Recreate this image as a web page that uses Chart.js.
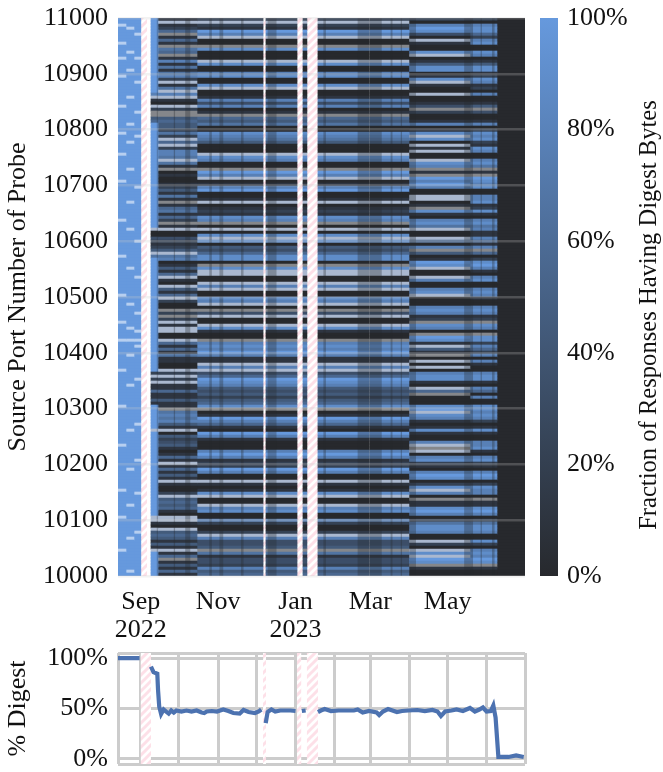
<!DOCTYPE html>
<html>
<head>
<meta charset="utf-8">
<script src="https://cdn.jsdelivr.net/npm/chart.js@4/dist/chart.umd.min.js"></script>
<style>
  body { margin: 0; background: #fff; width: 663px; height: 772px; overflow: hidden; position: relative; }
  canvas { position: absolute; }
</style>
</head>
<body>
<canvas id="heatChart" width="530" height="640" style="left:0;top:0"></canvas>
<canvas id="barChart" width="133" height="640" style="left:530px;top:0"></canvas>
<canvas id="lineChart" width="540" height="132" style="left:0;top:640px"></canvas>
<script>
// Rows read top to bottom, 0-9 = 0-100%, w = thin speckled white row, g = mixed grey row
const rowsMid = '2w2197w00g' + '8000w80078' + '008w001737' + '01g5460087' + '64000w8700' + 'g97w017900' +
  '1w012187g0' + 'w08w804358' + '80g8ww00w7' + 'w0087w0g3w' + '00w8100g78' + '79711w7w35' +
  '9874342458' + 'g019751097' + '1000797122' + '9700w1018w' + '00w7800720' + '02w7334g61' + '332745';
const rowsEarly = '1w125g151g' + '65g1716167' + '2w16w7w10w' + '2gg4544262' + 'w5w2776w61' + 'g010012416' +
  '1g156152g1' + 'w0032124w6' + '701415w10w' + '415w200g2g' + '2w1ww00w51' + '5161100w2w' +
  '2w11511411' + 'g676741w04' + '23410151w1' + '5141w1002w' + '454510ww10' + 'w454141w15' + 'g14151';
const rowsLate = '2079830w10' + '08w0148801' + '8w100w0013' + 'g20017018w' + '80w1w00w87' + 'g1g979700w' +
  'w01g810786' + 'w00w507g40' + '198w00w700' + '78w0007871' + '2g870g981w' + '41g0w0w078' +
  '810w5g0008' + '9w87101810' + '07wgw07821' + '0798028w70' + 'g118970268' + '8700w20w8w' + '98g100';
const rowsLast = '2078852780' + '0870148812' + '8712070014' + 'g300170287' + '8218700786' + 'g1g9878007' +
  '7812810786' + '7117517g50' + '2897107800' + '7871007871' + '2g870g8827' + '5270710078' +
  '8107507008' + '8787201810' + '0778107821' + '0798028770' + 'g118970268' + '8700820787' + '98g100';

// White specks in the all-blue weeks before Sep 2022 (row numbers)
const specksA = [2, 8, 13, 19, 29, 38, 45, 54, 67, 79, 92, 101, 107, 117, 129, 142, 157, 166, 177];
const specksB = [3, 11, 17, 26, 35, 41, 50, 61, 70, 83, 95, 103, 107, 112, 122, 137, 150, 162, 173, 184];
const specksC = [5, 13, 21, 31, 39, 56, 74, 86, 98, 104, 107, 109, 120, 135, 147, 158, 171];
// Rows where the stripes already start in the short blue strip after the gap
const edgeDarkRows = [[25, 34], [70, 79], [118, 128], [137, 137], [166, 177]];

// Days counted from 1 Sep 2022
const dayMin = -18;
const dayMax = 303;
const monthDays = [0, 30, 61, 91, 122, 153, 181, 212, 242, 273];
const labelDays = [0, 61, 122, 181, 242];
const labelTexts = [['Sep', '2022'], ['Nov'], ['Jan', '2023'], ['Mar'], ['May']];
const portTicks = [10000, 11000];
const barTicks = [0, 20, 40, 60, 80, 100];

const topGaps = [[0, 4.9], [96.4, 98.7], [123.2, 127.9], [131, 139.7]];
const lineGaps = [[0, 8], [96.4, 98.7], [123.2, 126.5], [131, 139.7]];
// Days where probing dimmed for a moment
const dimDays = [[12.6, 13.4], [26, 27], [35, 39], [54, 56], [62, 65], [79, 81], [100, 107], [144, 146],
  [171, 190], [197, 198.5], [205, 206], [212, 217], [255, 262], [268, 269], [277, 279]];

// Percentage line of the lower panel
const lineDays = [-18, -10, -1, 0, 8, 10, 13, 13.6, 14.5, 16, 18, 20, 22, 24, 26, 28, 32, 36, 40, 44, 48, 50, 52, 56, 60,
  65, 69, 73, 78, 81, 85, 90, 93, 95, 96.5, 98.5, 100, 103, 106, 110, 114, 118, 122, 123.5, 127, 130, 131,
  139.7, 142, 145, 150, 156, 162, 168, 171, 175, 180, 186, 188, 191, 195, 202, 206, 211, 218, 224, 230, 234,
  236.7, 240, 245, 249, 254, 259.6, 263.5, 267, 269.8, 272.7, 276, 278, 279.8, 282, 290, 296, 302];
const lineValues = [100, 100, 100, null, 91.6, 86, 84.5, 68, 52, 44.5, 49, 47, 45, 48, 46, 48, 47, 48, 47, 48, 46, 45.5, 47, 47.5, 47,
  49, 47.5, 45.5, 45, 48.5, 46.5, 45.5, 47, 49, null, 35.5, 46.6, 49, 47, 48, 48, 48, 47.5, null, 47.5, 48, null,
  46.5, 48, 49.5, 47.5, 48, 48, 48, 49, 46, 47.5, 46, 43.5, 47, 49.5, 46.5, 47.5, 48, 48.5, 47.5, 48.5, 47,
  42.5, 47, 48, 49, 47.5, 50.5, 47, 49, 51, 47, 47.5, 53, 41, 2, 2, 3.5, 2];

const rowLabels = rowsMid.split('').map((_, i) => String(Math.round(11000 - i * 1000 / rowsMid.length)));
const FONT = "'Liberation Serif', 'Times New Roman', serif";
const TEXT = '#111';

function mix(t) {
    const r = Math.round(0x27 + (0x66 - 0x27) * t);
    const g = Math.round(0x29 + (0x99 - 0x29) * t);
    const b = Math.round(0x2d + (0xdd - 0x2d) * t);
    return `rgb(${r},${g},${b})`;
}

function cellColor(ch) {
    if (ch === 'g') return '#85878b';
    if (ch === 'w') return '#aab8cf';
    if (ch === 's') return '#b7cff0';
    return mix(Number(ch) / 9);
}

function rowColumn(from, to, rowChars) {
    return {
        data: rowChars.map(() => [from, to]),
        backgroundColor: rowChars.map(cellColor),
        yAxisID: 'y',
        grouped: false,
        barPercentage: 1,
        categoryPercentage: 1
    };
}

function speckRow(specks) {
    return rowLabels.map((_, i) => specks.includes(i) ? 's' : '9');
}

function edgeRow() {
    return rowLabels.map((_, i) => edgeDarkRows.some(r => i >= r[0] && i <= r[1]) ? rowsEarly[i] : '9');
}

function hatchPattern() {
    const c = document.createElement('canvas');
    c.width = 8;
    c.height = 8;
    const p = c.getContext('2d');
    p.fillStyle = '#fff';
    p.fillRect(0, 0, 8, 8);
    p.strokeStyle = '#fde0e8';
    p.lineWidth = 3;
    p.beginPath();
    p.moveTo(-2, 10); p.lineTo(10, -2);
    p.moveTo(-6, 6); p.lineTo(6, -6);
    p.moveTo(2, 14); p.lineTo(14, 2);
    p.stroke();
    return p.createPattern(c, 'repeat');
}

// Hatched spans where the collection was down, through the x scale
function hatchPlugin(gaps) {
    return {
        id: 'hatch',
        beforeDatasetsDraw(chart) {
            const { ctx, chartArea, scales } = chart;
            ctx.save();
            ctx.fillStyle = hatchPattern();
            gaps.forEach(g => {
                const x0 = scales.x.getPixelForValue(g[0]);
                const x1 = scales.x.getPixelForValue(g[1]);
                ctx.fillRect(x0, chartArea.top, x1 - x0, chartArea.bottom - chartArea.top);
            });
            ctx.restore();
        }
    };
}

const dimPlugin = {
    id: 'dim',
    afterDatasetsDraw(chart) {
        const { ctx, chartArea, scales } = chart;
        ctx.save();
        ctx.fillStyle = 'rgba(38,41,45,0.32)';
        dimDays.forEach(d => {
            const x0 = scales.x.getPixelForValue(d[0]);
            const x1 = scales.x.getPixelForValue(d[1]);
            ctx.fillRect(x0, chartArea.top, x1 - x0, chartArea.bottom - chartArea.top);
        });
        ctx.restore();
    }
};

const rightTitle = {
    id: 'rightTitle',
    afterDraw(chart) {
        const { ctx, chartArea } = chart;
        ctx.save();
        ctx.translate(120, (chartArea.top + chartArea.bottom) / 2 + 18);
        ctx.rotate(-Math.PI / 2);
        ctx.font = `24.6px ${FONT}`;
        ctx.fillStyle = TEXT;
        ctx.textAlign = 'center';
        ctx.textBaseline = 'middle';
        ctx.fillText('Fraction of Responses Having Digest Bytes', 0, 0);
        ctx.restore();
    }
};

// Tick labels must not push the plot area in
function noLabelPadding(axis) {
    axis.paddingTop = 0;
    axis.paddingBottom = 0;
    axis.paddingLeft = 0;
    axis.paddingRight = 0;
}

const early = rowsEarly.split('');
const mid = rowsMid.split('');
const late = rowsLate.split('');
const last = rowsLast.split('');

new Chart(document.getElementById('heatChart'), {
    type: 'bar',
    data: {
        labels: rowLabels,
        datasets: [
            rowColumn(-18, -11.7, speckRow(specksA)),
            rowColumn(-11.7, -5.4, speckRow(specksB)),
            rowColumn(-5.4, 0, speckRow(specksC)),
            rowColumn(8, 13.5, edgeRow()),
            rowColumn(13.5, 44.3, early),
            rowColumn(44.3, 96.4, mid),
            rowColumn(98.7, 123.2, mid),
            rowColumn(127.9, 131, mid),
            rowColumn(139.7, 180.3, mid),
            rowColumn(181, 211.5, mid),
            rowColumn(211.5, 259.6, late),
            rowColumn(259.6, 280.9, last),
            rowColumn(280.9, 303, rowLabels.map(() => '0'))
        ]
    },
    plugins: [hatchPlugin(topGaps), dimPlugin],
    options: {
        indexAxis: 'y',
        responsive: false,
        animation: false,
        devicePixelRatio: 1,
        layout: { padding: { top: 18, right: 5 } },
        plugins: { legend: { display: false }, tooltip: { enabled: false } },
        scales: {
            x: {
                type: 'linear',
                min: dayMin,
                max: dayMax,
                grid: { display: false },
                border: { display: false },
                afterBuildTicks: axis => { axis.ticks = labelDays.map(value => ({ value })); },
                afterFit: axis => { axis.height = 64; noLabelPadding(axis); },
                ticks: {
                    autoSkip: false,
                    maxRotation: 0,
                    padding: 5,
                    color: TEXT,
                    font: { family: FONT, size: 26, lineHeight: 1.05 },
                    callback: value => labelTexts[labelDays.indexOf(value)]
                }
            },
            y: { type: 'category', display: false },
            yPort: {
                type: 'linear',
                position: 'left',
                offset: false,
                min: portTicks[0],
                max: portTicks[1],
                afterFit: axis => { axis.width = 118; noLabelPadding(axis); },
                grid: { offset: false, color: 'rgba(204,204,204,0.25)', lineWidth: 2.5, z: 1, drawTicks: false },
                border: { display: false },
                ticks: {
                    stepSize: 100,
                    padding: 10,
                    color: TEXT,
                    font: { family: FONT, size: 26 },
                    callback: value => String(value)
                },
                title: {
                    display: true,
                    text: 'Source Port Number of Probe',
                    color: TEXT,
                    padding: { top: 3, bottom: 0 },
                    font: { family: FONT, size: 26 }
                }
            }
        }
    }
});

new Chart(document.getElementById('barChart'), {
    type: 'bar',
    data: {
        labels: ['share'],
        datasets: [{
            data: [[barTicks[0], barTicks[barTicks.length - 1]]],
            barPercentage: 1,
            categoryPercentage: 1,
            backgroundColor: context => {
                const area = context.chart.chartArea;
                if (!area) return mix(1);
                const gradient = context.chart.ctx.createLinearGradient(0, area.bottom, 0, area.top);
                gradient.addColorStop(0, mix(0));
                gradient.addColorStop(1, mix(1));
                return gradient;
            }
        }]
    },
    plugins: [rightTitle],
    options: {
        responsive: false,
        animation: false,
        devicePixelRatio: 1,
        layout: { padding: { top: 18, left: 10, bottom: 64 } },
        plugins: { legend: { display: false }, tooltip: { enabled: false } },
        scales: {
            x: { display: false },
            y: {
                position: 'right',
                min: 0,
                max: 100,
                afterFit: axis => { axis.width = 105; noLabelPadding(axis); },
                grid: { display: false, drawTicks: false },
                border: { display: false },
                ticks: {
                    stepSize: 20,
                    padding: 9,
                    color: TEXT,
                    font: { family: FONT, size: 26 },
                    callback: value => value + '%'
                }
            }
        }
    }
});

new Chart(document.getElementById('lineChart'), {
    type: 'line',
    data: {
        datasets: [{
            data: lineDays.map((x, i) => ({ x, y: lineValues[i] })),
            borderColor: '#4c72b0',
            borderWidth: 4.2,
            pointRadius: 0,
            tension: 0,
            spanGaps: false
        }]
    },
    plugins: [hatchPlugin(lineGaps)],
    options: {
        responsive: false,
        animation: false,
        devicePixelRatio: 1,
        layout: { padding: { top: 13, right: 15 } },
        plugins: { legend: { display: false }, tooltip: { enabled: false } },
        scales: {
            x: {
                type: 'linear',
                min: dayMin,
                max: dayMax,
                afterBuildTicks: axis => { axis.ticks = [dayMin, ...monthDays, dayMax].map(value => ({ value })); },
                afterFit: axis => { axis.height = 8; noLabelPadding(axis); },
                grid: { color: '#cccccc', lineWidth: 3, drawTicks: false },
                border: { display: false },
                ticks: { display: false }
            },
            y: {
                min: -5,
                max: 105,
                afterBuildTicks: axis => { axis.ticks = [-5, 0, 50, 100, 105].map(value => ({ value })); },
                afterFit: axis => { axis.width = 118; noLabelPadding(axis); },
                grid: { color: '#cccccc', lineWidth: 3, drawTicks: false },
                border: { display: false },
                ticks: {
                    autoSkip: false,
                    padding: 10,
                    color: TEXT,
                    font: { family: FONT, size: 26 },
                    callback: value => (value % 50 === 0 ? value + '%' : '')
                },
                title: {
                    display: true,
                    text: '% Digest',
                    color: TEXT,
                    padding: { top: 3, bottom: 0 },
                    font: { family: FONT, size: 26 }
                }
            }
        }
    }
});
</script>
</body>
</html>
